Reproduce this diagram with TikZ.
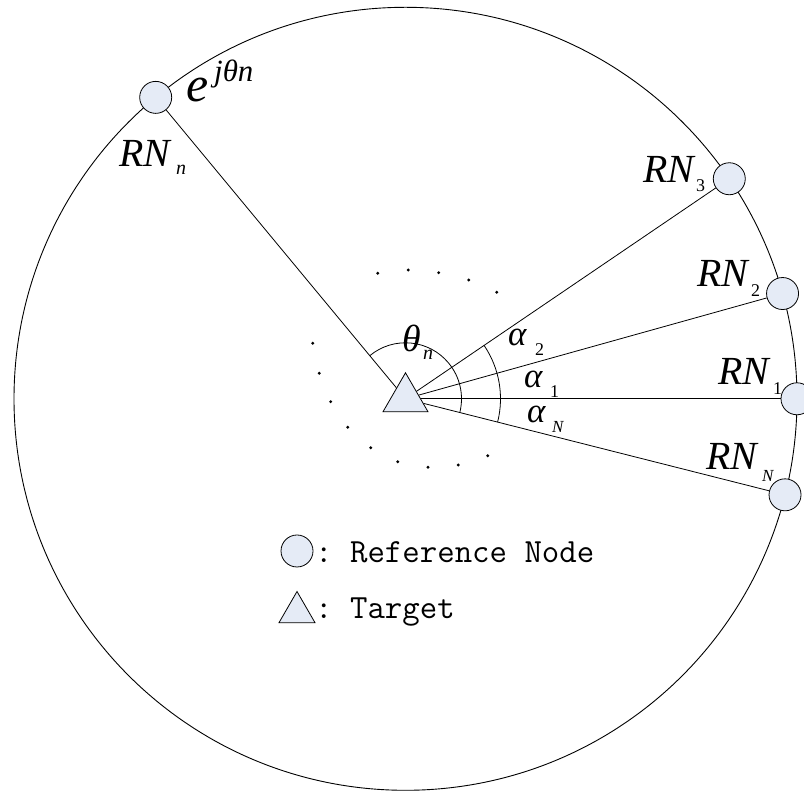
\documentclass[tikz,border=0pt]{standalone}
\usepackage{fontspec}
\setmainfont{Liberation Serif}
\setmonofont{Latin Modern Mono}
\usetikzlibrary{calc,shapes.geometric}
\definecolor{nodefill}{RGB}{229,235,246}
\tikzset{
  refnode/.style={circle, draw, fill=nodefill, minimum size=32bp, inner sep=0pt, line width=0.8bp},
  tgtnode/.style={regular polygon, regular polygon sides=3, draw, fill=nodefill, inner sep=0pt, line width=0.8bp},
  big/.style={inner sep=0pt, anchor=base west, font=\itshape\fontsize{40}{40}\selectfont},
  greek/.style={inner sep=0pt, anchor=base west, font=\itshape\fontsize{38}{38}\selectfont},
  alpha/.style={inner sep=0pt, anchor=base west, font=\itshape\fontsize{35}{35}\selectfont},
  subd/.style={inner sep=0pt, anchor=base west, font=\fontsize{18}{18}\selectfont},
  sub/.style={inner sep=0pt, anchor=base west, font=\itshape\fontsize{17}{17}\selectfont},
  subn/.style={inner sep=0pt, anchor=base west, font=\itshape\fontsize{20}{20}\selectfont},
  legend/.style={inner sep=0pt, anchor=base west, font=\ttfamily\fontsize{34}{34}\selectfont},
  wire/.style={line width=0.8bp},
  dot/.style={fill=black}
}
\begin{document}
\begin{tikzpicture}[x=1bp,y=1bp]
\useasboundingbox (0,0) rectangle (804,792);
\coordinate (C) at (405.5,393.2);

% coverage circle
\draw[line width=0.9bp] (C) circle[radius=391.5];

% reference nodes on the circle
\node[refnode] (rnn) at ($(C)+(129.65:391.5)$) {};
\node[refnode] (rn3) at ($(C)+(34.2:391.5)$) {};
\node[refnode] (rn2) at ($(C)+(15.6:391.5)$) {};
\node[refnode] (rn1) at ($(C)+(0:391.5)$) {};
\node[refnode] (rnN) at ($(C)+(-14.2:391.5)$) {};

% target in the centre
\node[tgtnode, minimum size=52bp] (tgt) at (C) {};

% links from the target to the reference nodes
\draw[wire] (tgt) -- (rnn);
\draw[wire] (tgt) -- (rn3);
\draw[wire] (tgt) -- (rn2);
\draw[wire] (tgt) -- (rn1);
\draw[wire] (tgt) -- (rnN);

% angle arcs
\draw[wire] ($(C)+(129.65:56)$) arc[start angle=129.65, end angle=-14.2, radius=56];
\draw[wire] ($(C)+(34.2:95)$) arc[start angle=34.2, end angle=-14.2, radius=95];

% dotted continuation
\foreach \p in {(377.7,518.7),(408.3,522),(438.7,519.3),(468.7,512),(496.7,499.7),
                (312.7,448.7),(319.3,418.7),(330.7,390.3),(347.7,364.7),(370.7,344.3),
                (397.7,330.3),(428,324.7),(458.3,327),(487.7,336.3)}
  \fill[dot] \p circle[radius=1.6];

% node labels
\node[big] (lrnn) at (119,625.3) {RN};
\node[subn] (lrnns) at (176,617) {n};
\node[big] (lrn3) at (643,609.7) {RN};
\node[subd] (lrn3s) at (696,600.3) {3};
\node[big] (lrn2) at (697,505.3) {RN};
\node[subd] (lrn2s) at (751,495.3) {2};
\node[big] (lrn1) at (718,407) {RN};
\node[subd] (lrn1s) at (773,397) {1};
\node[big] (lrnN) at (706,322) {RN};
\node[sub] (lrnNs) at (762,310.3) {N};

% phase term
\node[inner sep=0pt, anchor=base west, font=\itshape\fontsize{50}{50}\selectfont] (ephase) at (186,690.3) {e};
\node[inner sep=0pt, anchor=base west, font=\itshape\fontsize{31}{31}\selectfont] (ephasesup) at (214,710.3) {jθn};

% angle labels
\node[greek] (lth) at (402,440) {θ};
\node[subn] (lths) at (423,432) {n};
\node[alpha] (la2) at (508,446) {α};
\node[subd] (la2s) at (535,436) {2};
\node[alpha] (la1) at (524,404.5) {α};
\node[subd] (la1s) at (550,394) {1};
\node[alpha] (laN) at (527,369) {α};
\node[sub] (laNs) at (552,359.5) {N};

% legend
\node[refnode] (legc) at (297,241) {};
\node[legend] (legct) at (315,229.5) {: Reference Node};
\node[tgtnode, minimum size=41.6bp] (legt) at (297,179.7) {};
\node[legend] (legtt) at (315,173) {: Target};
\end{tikzpicture}
\end{document}
